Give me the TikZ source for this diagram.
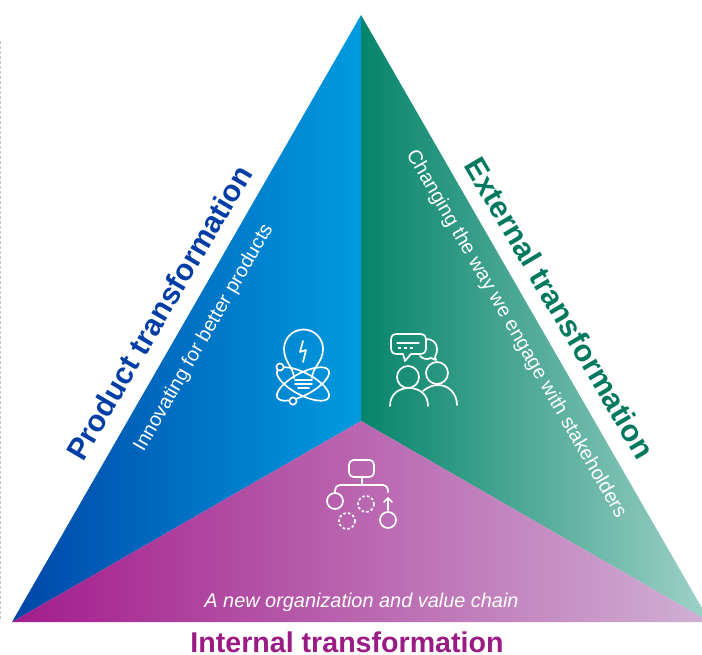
\documentclass[tikz,border=0pt]{standalone}
\usepackage{fontspec}
\setmainfont{Liberation Sans}
\definecolor{blueL}{HTML}{0046A8}
\definecolor{blueR}{HTML}{009BDF}
\definecolor{greenL}{HTML}{06856A}
\definecolor{greenR}{HTML}{A0D2C8}
\definecolor{magL}{HTML}{A31C8C}
\definecolor{magR}{HTML}{D0B0D4}
\definecolor{magText}{HTML}{9B1B85}
\definecolor{navyText}{HTML}{003DA5}
\definecolor{tealText}{HTML}{00795F}
\tikzset{
  headp/.style={font=\bfseries\fontsize{30.2}{32}\selectfont, inner sep=0pt},
  heade/.style={font=\bfseries\fontsize{30.4}{32}\selectfont, inner sep=0pt},
  headint/.style={font=\bfseries\fontsize{28.6}{30}\selectfont, inner sep=0pt},
  subl/.style={font=\fontsize{19.9}{22}\selectfont, text=white, inner sep=0pt},
  subr/.style={font=\fontsize{19.9}{22}\selectfont, text=white, inner sep=0pt},
  subb/.style={font=\itshape\fontsize{19.9}{22}\selectfont, text=white, inner sep=0pt},
  ico/.style={draw=white, line width=1.7pt, line cap=round, line join=round},
  dashc/.style={ico, dash pattern=on 2.6pt off 2.2pt, line cap=butt},
}
\begin{document}
\begin{tikzpicture}[x=1pt,y=-1pt]
\useasboundingbox (0,0) rectangle (702,655);
\clip (0,0) rectangle (702,655);
% guide
\draw[gray!45, line width=1pt, dash pattern=on 3pt off 2pt] (0.5,41) -- (0.5,621);
% triangles
\shade[left color=blueL, right color=blueR] (361,15) -- (361,421) -- (12,622) -- cycle;
\shade[left color=greenL, right color=greenR] (361,15) -- (361,421) -- (710,622) -- cycle;
\shade[left color=magL, right color=magR] (12,622) -- (361,421) -- (710,622) -- cycle;
% headings
\node[headp, text=navyText, rotate=59.5] (prod) at (159,312.5) {Product transformation};
\node[heade, text=tealText, rotate=-59.5] (ext) at (560,308) {External transformation};
\node[headint, text=magText] (int) at (347,642.5) {Internal transformation};
% subtitles
\node[subl, rotate=60] (prodsub) at (204,338) {Innovating for better products};
\node[subr, rotate=-60] (extsub) at (516,334) {Changing the way we engage with stakeholders};
\node[subb] (intsub) at (361.5,602.5) {A new organization and value chain};
% bulb icon
\draw[ico] (294,378) .. controls (294,368) and (284,362) .. (284,349) arc[start angle=180, end angle=360, radius=19.5] .. controls (323,362) and (312,368) .. (312,378);
\draw[ico] (303,341) -- (300,352) -- (306,350) -- (303,362);
\draw[ico] (295,380) -- (312,380) (295,384) -- (312,384) (298,388) -- (309,388);
\draw[ico] (303,384) ellipse[x radius=29, y radius=11, rotate=28];
\draw[ico] (303,384) ellipse[x radius=29, y radius=11, rotate=-28];
\draw[ico, fill=blueR!55!blueL] (280,367) circle[radius=3.6];
\draw[ico, fill=blueR!60!blueL] (293,401) circle[radius=3.6];
% people icon
\draw[ico] (408,377) circle[radius=11];
\draw[ico] (390,406) .. controls (390,394) and (399,388) .. (409,388) .. controls (419,388) and (428,394) .. (428,406);
\draw[ico] (437,373) circle[radius=11];
\draw[ico] (423,391) .. controls (428,387) and (433,385) .. (438,385) .. controls (449,385) and (457,394) .. (457,405);
\draw[ico] (397,334) -- (420,334) .. controls (424,334) and (426,336) .. (426,340) -- (426,348) .. controls (426,352) and (424,354) .. (420,354) -- (411,354) -- (405,361) -- (403,354) -- (397,354) .. controls (393,354) and (391,352) .. (391,348) -- (391,340) .. controls (391,336) and (393,334) .. (397,334) -- cycle;
\draw[ico] (426,339) .. controls (433,339) and (437,343) .. (437,349) .. controls (437,353) and (436,355) .. (435,357) -- (436,360) -- (431,358) .. controls (427,360) and (423,359) .. (420,356);
\draw[ico, line width=1.1pt] (397,343) -- (419,343);
\draw[ico, line width=1.1pt, dash pattern=on 3pt off 3pt, line cap=butt] (398,348) -- (414,348);
% org icon
\draw[ico, rounded corners=4.5pt] (349,460) rectangle (374,477);
\draw[ico] (362,477) -- (362,485);
\draw[ico, rounded corners=5pt] (335,493) -- (335,485) -- (388,485) -- (388,492);
\draw[ico] (335,501) circle[radius=8];
\draw[ico] (388,520) circle[radius=8];
\draw[ico] (388,510) -- (388,498) (384,502) -- (388,498) -- (392,502);
\draw[dashc] (366,504) circle[radius=8];
\draw[dashc] (347,521) circle[radius=8];
\end{tikzpicture}
\end{document}
